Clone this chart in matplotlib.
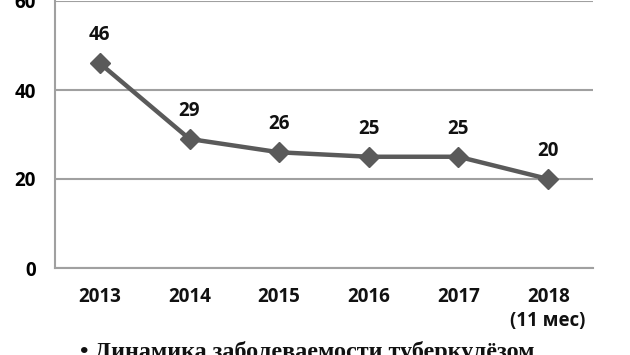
import matplotlib
matplotlib.use("Agg")
import matplotlib.pyplot as plt

years = ["2013", "2014", "2015", "2016", "2017", "2018\n(11 мес)"]
values = [46, 29, 26, 25, 25, 20]
yticks = [0, 20, 40, 60]
caption = "• Динамика заболеваемости туберкулёзом"

plt.rcParams['font.family'] = ['Open Sans', 'DejaVu Sans']

fig = plt.figure(figsize=(6.3, 3.55), dpi=100)
ax = fig.add_axes([55/630, 87/355, 538/630, 267/355])

x = list(range(len(years)))
ax.plot(x, values, color="#5a5a5a", lw=3.2, marker="D", markersize=10,
        markerfacecolor="#5a5a5a", markeredgecolor="#5a5a5a", zorder=3, clip_on=False)
for xi, v in zip(x, values):
    ax.annotate(str(v), (xi, v), xytext=(0, 13), textcoords="offset points",
                ha="center", va="bottom", fontsize=13.5, fontweight="bold", color="#111111")

ax.set_xlim(-0.5, len(years) - 0.5)
ax.set_ylim(0, 60)
ax.set_yticks(yticks)
ax.set_yticklabels([str(t) for t in yticks], fontsize=13.5, fontweight="bold")
ax.set_xticks(x)
ax.set_xticklabels(years, fontsize=13.5, fontweight="bold", linespacing=1.25, va="top")
ax.tick_params(axis="both", length=0, pad=14)
ax.tick_params(axis="x", pad=14)
for lab in ax.get_xticklabels():
    lab.set_color("#111111")
ax.grid(axis="y", color="#a0a0a0", lw=1.5)
ax.set_axisbelow(True)
for s in ["top", "right"]:
    ax.spines[s].set_visible(False)
for s in ["left", "bottom"]:
    ax.spines[s].set_color("#a0a0a0")
    ax.spines[s].set_linewidth(1.5)

fig.text(80/630, -3/355, caption, family=["Liberation Serif", "DejaVu Serif"],
         fontsize=17.4, fontweight="bold", ha="left", va="baseline", color="#111111")

fig.savefig("out.png", dpi=100)
